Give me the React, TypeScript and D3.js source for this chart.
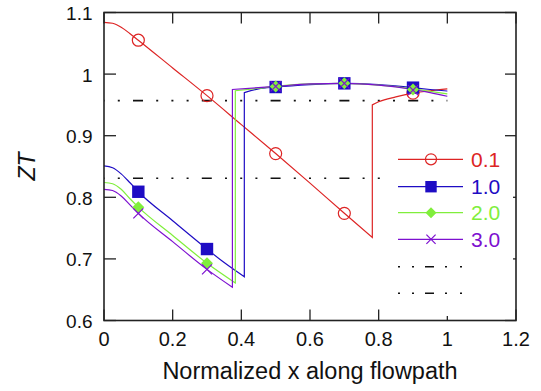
import React from "react";
import * as d3 from "d3";

type P = [number, number];

const xTicks = [0, 0.2, 0.4, 0.6, 0.8, 1, 1.2];
const yTicks = [0.6, 0.7, 0.8, 0.9, 1, 1.1];
const xTickLabels = ["0", "0.2", "0.4", "0.6", "0.8", "1", "1.2"];
const yTickLabels = ["0.6", "0.7", "0.8", "0.9", "1", "1.1"];

const seriesNames = ["0.1", "1.0", "2.0", "3.0"];
const seriesColors = ["#dd2424", "#1e0cc4", "#80ee3c", "#7d10d0"];
const markerTypes = ["circle", "square", "diamond", "cross"];

const redPre: P[] = [[0, 1.084], [0.025, 1.0825], [0.05, 1.076], [0.075, 1.066], [0.1, 1.055], [0.2, 1.01], [0.3, 0.965], [0.4, 0.918], [0.5, 0.871], [0.6, 0.823], [0.7, 0.774], [0.7815, 0.735]];
const redPost: P[] = [[0.7815, 0.95], [0.8, 0.955], [0.85, 0.963], [0.9, 0.969], [0.95, 0.973], [1.0, 0.976]];
const bluePre: P[] = [[0, 0.851], [0.025, 0.848], [0.05, 0.838], [0.075, 0.824], [0.1, 0.809], [0.2, 0.762], [0.3, 0.716], [0.35, 0.694], [0.4087, 0.671]];
const bluePost: P[] = [[0.4087, 0.97], [0.45, 0.976], [0.5, 0.979], [0.6, 0.983], [0.7, 0.985], [0.8, 0.983], [0.9, 0.978], [0.95, 0.975], [1.0, 0.9725]];
const greenPre: P[] = [[0, 0.824], [0.025, 0.822], [0.05, 0.813], [0.075, 0.798], [0.1, 0.784], [0.2, 0.738], [0.3, 0.693], [0.3825, 0.661]];
const greenPost: P[] = [[0.3825, 0.973], [0.45, 0.977], [0.5, 0.98], [0.6, 0.984], [0.7, 0.985], [0.8, 0.982], [0.9, 0.976], [0.95, 0.972], [1.0, 0.968]];
const purplePre: P[] = [[0, 0.813], [0.025, 0.811], [0.05, 0.802], [0.075, 0.788], [0.1, 0.774], [0.2, 0.728], [0.3, 0.683], [0.374, 0.654]];
const purplePost: P[] = [[0.374, 0.975], [0.45, 0.978], [0.5, 0.98], [0.6, 0.984], [0.7, 0.985], [0.8, 0.982], [0.9, 0.975], [0.95, 0.97], [1.0, 0.964]];

const redMarkers: P[] = [[0.1, 1.055], [0.3, 0.965], [0.5, 0.871], [0.7, 0.774], [0.9, 0.969]];
const blueMarkers: P[] = [[0.1, 0.809], [0.3, 0.716], [0.5, 0.979], [0.7, 0.985], [0.9, 0.978]];
const greenMarkers: P[] = [[0.1, 0.784], [0.3, 0.693], [0.5, 0.98], [0.7, 0.985], [0.9, 0.975]];
const purpleMarkers: P[] = [[0.1, 0.774], [0.3, 0.683], [0.5, 0.98], [0.7, 0.985], [0.9, 0.974]];

const refLineY = [0.957, 0.831];
const refLineX: [number, number] = [0, 1.0];

const pres = [redPre, bluePre, greenPre, purplePre];
const posts = [redPost, bluePost, greenPost, purplePost];
const markers = [redMarkers, blueMarkers, greenMarkers, purpleMarkers];

const W = 541, H = 391;
const L = 104, R = 516, T = 12.5, B = 320.5;
const FONT = "'Liberation Sans', Arial, Helvetica, sans-serif";
const DASH = "10,13.2,2,13.2,2,13.2,2,13.2";
const LEG_DASH = "2,12,2,11,9,11,2,13,2,20";

function Marker({ type, x, y, color, s = 1 }: { type: string; x: number; y: number; color: string; s?: number }) {
  if (type === "circle") return <circle cx={x} cy={y} r={6 * s} fill="none" stroke={color} strokeWidth={1.2} />;
  if (type === "square") return <rect x={x - 6.2 * s} y={y - 6.2 * s} width={12.4 * s} height={12.4 * s} fill={color} />;
  if (type === "diamond") {
    const r = 6 * s;
    return <path d={`M${x},${y - r}L${x + r},${y}L${x},${y + r}L${x - r},${y}Z`} fill={color} />;
  }
  const r = 5 * s;
  return <path d={`M${x - r},${y - r}L${x + r},${y + r}M${x - r},${y + r}L${x + r},${y - r}`} stroke={color} strokeWidth={1.2} />;
}

export default function App() {
  const x = d3.scaleLinear().domain([0, 1.2]).range([L, R]);
  const y = d3.scaleLinear().domain([0.6, 1.1]).range([B, T]);
  const line = d3.line<P>().x(d => x(d[0])).y(d => y(d[1])).curve(d3.curveMonotoneX);

  const paths = pres.map((pre, i) => {
    const a = line(pre) || "";
    const b = (line(posts[i]) || "").replace(/^M/, "L");
    return a + b;
  });

  const legY = [159.3, 186.7, 212.7, 239.3];
  const legDashY = [266.7, 293.3];

  return (
    <svg width={W} height={H} style={{ position: "absolute", left: 0, top: 0, background: "#fff" }} fontFamily={FONT}>
      <rect x={0} y={0} width={W} height={H} fill="#fff" />
      {refLineY.map((v, i) => (
        <line key={i} x1={x(refLineX[0])} x2={x(refLineX[1])} y1={y(v)} y2={y(v)} stroke="#111" strokeWidth={1.6} strokeDasharray={DASH} strokeDashoffset={39.8} />
      ))}
      {paths.map((d, i) => (
        <path key={i} d={d} fill="none" stroke={seriesColors[i]} strokeWidth={1.2} />
      ))}
      {markers.map((ms, i) =>
        ms.map((m, j) => <Marker key={`${i}-${j}`} type={markerTypes[i]} x={x(m[0])} y={y(m[1])} color={seriesColors[i]} />)
      )}
      <rect x={L} y={T} width={R - L} height={B - T} fill="none" stroke="#222" strokeWidth={1.6} />
      {xTicks.map((t, i) => (
        <g key={i}>
          <line x1={x(t)} x2={x(t)} y1={B} y2={B - 11} stroke="#222" strokeWidth={1.3} />
          <line x1={x(t)} x2={x(t)} y1={T} y2={T + 11} stroke="#222" strokeWidth={1.3} />
          <text x={x(t)} y={345.5} fontSize={20} textAnchor="middle" fill="#111">{xTickLabels[i]}</text>
        </g>
      ))}
      {yTicks.map((t, i) => (
        <g key={i}>
          <line x1={L} x2={L + 12} y1={y(t)} y2={y(t)} stroke="#222" strokeWidth={1.3} />
          <line x1={R} x2={R - 11} y1={y(t)} y2={y(t)} stroke="#222" strokeWidth={1.3} />
          <text x={92.5} y={y(t) + 7.5} fontSize={19} textAnchor="end" fill="#111">{yTickLabels[i]}</text>
        </g>
      ))}
      <rect x={384} y={142} width={129} height={174} fill="#fff" />
      {seriesNames.map((n, i) => (
        <g key={n}>
          <line x1={398} x2={463} y1={legY[i]} y2={legY[i]} stroke={seriesColors[i]} strokeWidth={1.2} />
          <Marker type={markerTypes[i]} x={431} y={legY[i]} color={seriesColors[i]} s={0.92} />
          <text x={471} y={legY[i] + 7.5} fontSize={21} fill={seriesColors[i]}>{n}</text>
        </g>
      ))}
      {legDashY.map((ly, i) => (
        <line key={i} x1={398} x2={463} y1={ly} y2={ly} stroke="#111" strokeWidth={1.6} strokeDasharray={LEG_DASH} />
      ))}
      <text x={(L + R) / 2} y={379} fontSize={23.5} textAnchor="middle" fill="#111">Normalized x along flowpath</text>
      <text transform={`translate(35,${(T + B) / 2}) rotate(-90)`} fontSize={23} fontStyle="italic" textAnchor="middle" fill="#111">ZT</text>
    </svg>
  );
}
